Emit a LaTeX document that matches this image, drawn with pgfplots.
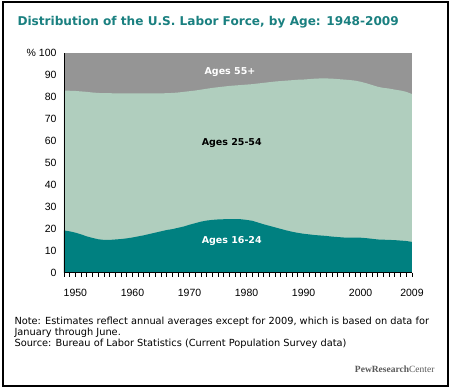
\documentclass[border=0pt]{standalone}
\usepackage{pgfplots}
\pgfplotsset{compat=1.18}
\usepackage{pgfplotstable}
\usepackage{fontspec}
\setmainfont{DejaVu Sans}
\newfontfamily\ticks{Liberation Sans}
\newfontfamily\pew{Liberation Serif}
\definecolor{teal1}{HTML}{008080}
\definecolor{mint}{HTML}{B0CEBE}
\definecolor{grayA}{HTML}{959595}
\definecolor{titlec}{HTML}{1A8080}

% year, share 16-24 (a16), cumulative share 16-54 (top); 55+ = 100 - top
\pgfplotstableread{
year a16 top
1948 19.2 82.8
1949 18.8 82.7
1950 18.2 82.6
1951 17.4 82.4
1952 16.5 82.2
1953 15.8 81.9
1954 15.2 81.7
1955 14.9 81.6
1956 14.9 81.6
1957 15.1 81.5
1958 15.3 81.5
1959 15.6 81.5
1960 16.0 81.5
1961 16.5 81.5
1962 17.0 81.5
1963 17.6 81.5
1964 18.2 81.5
1965 18.8 81.5
1966 19.4 81.6
1967 19.8 81.7
1968 20.4 81.9
1969 21.0 82.2
1970 21.8 82.5
1971 22.5 82.8
1972 23.2 83.2
1973 23.7 83.6
1974 24.0 84.0
1975 24.2 84.3
1976 24.3 84.6
1977 24.4 84.9
1978 24.4 85.1
1979 24.3 85.3
1980 24.0 85.5
1981 23.6 85.7
1982 22.8 86.0
1983 22.0 86.3
1984 21.3 86.6
1985 20.6 86.9
1986 19.9 87.1
1987 19.2 87.3
1988 18.6 87.5
1989 18.1 87.7
1990 17.7 87.8
1991 17.4 88.0
1992 17.1 88.2
1993 16.9 88.3
1994 16.7 88.3
1995 16.4 88.2
1996 16.2 88.0
1997 16.0 87.8
1998 15.9 87.6
1999 15.9 87.3
2000 15.9 86.8
2001 15.7 86.1
2002 15.4 85.3
2003 15.1 84.5
2004 15.0 84.0
2005 14.9 83.7
2006 14.8 83.2
2007 14.6 82.8
2008 14.4 82.2
2009 14.0 81.2
}\labordata

\begin{document}
\begin{tikzpicture}
\path[use as bounding box,fill=white] (0pt,0pt) rectangle (450pt,390pt);
\draw[line width=1.2pt] (3pt,4pt) rectangle (448pt,388pt);
\node[anchor=west,text=titlec,font=\bfseries\fontsize{12.1}{14}\selectfont] at (14pt,368pt) {Distribution of the U.S. Labor Force, by Age: 1948-2009};
\begin{axis}[
  at={(64pt,117.3pt)}, anchor=south west,
  scale only axis, width=348pt, height=220pt,
  xmin=1948, xmax=2009, ymin=0, ymax=100,
  axis x line*=bottom, axis y line*=left,
  axis on top=true,
  clip mode=individual,
  axis line style={black, line width=0.8pt, -},
  xtick={1950,1960,1970,1980,1990,2000,2009},
  major tick length=0pt, minor tick length=0pt,
  ytick={0,10,...,100},
  yticklabels={0,10,20,30,40,50,60,70,80,90,\% 100},
  /pgf/number format/1000 sep={},
  /pgf/number format/assume math mode=true,
  ticklabel style={font=\ticks\fontsize{10.5}{12}\selectfont},
  xticklabel style={yshift=-13pt},
  yticklabel style={xshift=-4pt},
]
\addplot[draw=none, fill=grayA] coordinates {(1948,100) (2009,100)} \closedcycle;
\addplot[draw=none, fill=mint] table[x=year,y=top] {\labordata} \closedcycle;
\addplot[draw=none, fill=teal1] table[x=year,y=a16] {\labordata} \closedcycle;
\pgfplotsinvokeforeach{1948,...,2009}{
  \draw[black, line width=0.8pt] (axis cs:#1,0) -- ++(0pt,-4pt);
}
\node[text=white,font=\bfseries\fontsize{9.5}{10}\selectfont] at (axis cs:1977.1,91.3) {Ages 55+};
\node[text=black,font=\bfseries\fontsize{9.5}{10}\selectfont] at (axis cs:1977.4,58.9) {Ages 25-54};
\node[text=white,font=\bfseries\fontsize{9.5}{10}\selectfont] at (axis cs:1977.4,14.5) {Ages 16-24};
\end{axis}
\begin{scope}[font=\fontsize{9.8}{11}\selectfont]
\node[anchor=west] at (11pt,68.3pt) {Note: Estimates reflect annual averages except for 2009, which is based on data for};
\node[anchor=west] at (11pt,57.3pt) {January through June.};
\node[anchor=west] at (11pt,46.5pt) {Source: Bureau of Labor Statistics (Current Population Survey data)};
\end{scope}
\node[anchor=east,text=black!65,font=\pew\fontsize{9.5}{11}\selectfont] at (438pt,21pt) {\textbf{PewResearch}Center};
\end{tikzpicture}
\end{document}
